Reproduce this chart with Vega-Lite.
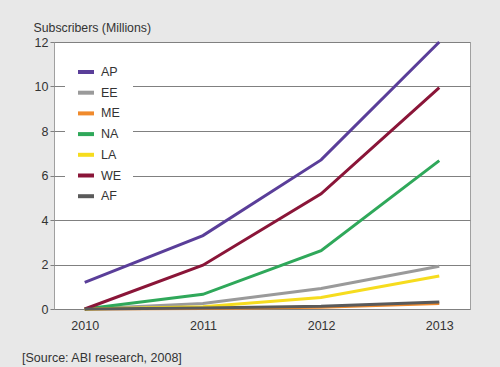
{
  "$schema": "https://vega.github.io/schema/vega-lite/v6.json",
  "width": 416,
  "height": 267,
  "autosize": {"type": "none"},
  "padding": {"left": 54, "top": 42, "right": 30, "bottom": 58},
  "background": "#e8e8e8",
  "title": {
    "text": "[Source: ABI research, 2008]",
    "orient": "bottom",
    "anchor": "start",
    "frame": "group",
    "dx": -32,
    "offset": 20,
    "fontSize": 12.5,
    "fontWeight": "normal",
    "font": "Liberation Sans",
    "color": "#333333"
  },
  "config": {
    "font": "Liberation Sans",
    "view": {"fill": "#ffffff", "stroke": "#a0a0a0", "strokeWidth": 1}
  },
  "data": {
    "values": [
      {"region": "AP", "year": "2010", "subs": 1.2},
      {"region": "AP", "year": "2011", "subs": 3.3},
      {"region": "AP", "year": "2012", "subs": 6.7},
      {"region": "AP", "year": "2013", "subs": 12.0},
      {"region": "EE", "year": "2010", "subs": 0.0},
      {"region": "EE", "year": "2011", "subs": 0.25},
      {"region": "EE", "year": "2012", "subs": 0.92},
      {"region": "EE", "year": "2013", "subs": 1.92},
      {"region": "ME", "year": "2010", "subs": 0.0},
      {"region": "ME", "year": "2011", "subs": 0.02},
      {"region": "ME", "year": "2012", "subs": 0.08},
      {"region": "ME", "year": "2013", "subs": 0.25},
      {"region": "NA", "year": "2010", "subs": 0.0},
      {"region": "NA", "year": "2011", "subs": 0.66},
      {"region": "NA", "year": "2012", "subs": 2.62},
      {"region": "NA", "year": "2013", "subs": 6.67},
      {"region": "LA", "year": "2010", "subs": 0.0},
      {"region": "LA", "year": "2011", "subs": 0.1},
      {"region": "LA", "year": "2012", "subs": 0.52},
      {"region": "LA", "year": "2013", "subs": 1.48},
      {"region": "WE", "year": "2010", "subs": 0.0},
      {"region": "WE", "year": "2011", "subs": 1.97},
      {"region": "WE", "year": "2012", "subs": 5.18},
      {"region": "WE", "year": "2013", "subs": 9.95},
      {"region": "AF", "year": "2010", "subs": 0.0},
      {"region": "AF", "year": "2011", "subs": 0.05},
      {"region": "AF", "year": "2012", "subs": 0.12},
      {"region": "AF", "year": "2013", "subs": 0.32}
    ]
  },
  "mark": {"type": "line", "strokeWidth": 3, "clip": false},
  "encoding": {
    "x": {
      "field": "year",
      "type": "ordinal",
      "scale": {"type": "point", "padding": 0.26},
      "axis": {
        "title": null,
        "labelAngle": 0,
        "ticks": false,
        "domain": false,
        "grid": false,
        "labelFontSize": 12.5,
        "labelColor": "#333333",
        "labelPadding": 10
      }
    },
    "y": {
      "field": "subs",
      "type": "quantitative",
      "scale": {"domain": [0, 12], "nice": false},
      "axis": {
        "title": "Subscribers (Millions)",
        "titleAngle": 0,
        "titleAlign": "left",
        "titleBaseline": "alphabetic",
        "titleX": -21,
        "titleY": -11,
        "titleFontSize": 12.3,
        "titleFontWeight": "normal",
        "titleColor": "#333333",
        "values": [0, 2, 4, 6, 8, 10, 12],
        "grid": true,
        "gridColor": "#808080",
        "gridOpacity": 1,
        "domain": false,
        "tickSize": 4,
        "tickColor": "#808080",
        "labelPadding": 2,
        "labelFontSize": 12.5,
        "labelColor": "#333333"
      }
    },
    "color": {
      "field": "region",
      "type": "nominal",
      "scale": {
        "domain": ["AP", "EE", "ME", "NA", "LA", "WE", "AF"],
        "range": ["#5a3e99", "#9a9a9a", "#f08a2c", "#2fa85a", "#f6dc1e", "#8a1538", "#5a5a5a"]
      },
      "legend": {
        "title": null,
        "orient": "none",
        "legendX": 11,
        "legendY": 9,
        "fillColor": "#ffffff",
        "padding": 11,
        "symbolType": "stroke",
        "symbolSize": 256,
        "symbolStrokeWidth": 4,
        "labelFontSize": 12.5,
        "labelColor": "#333333",
        "labelOffset": 5,
        "rowPadding": 2.7
      }
    }
  }
}
